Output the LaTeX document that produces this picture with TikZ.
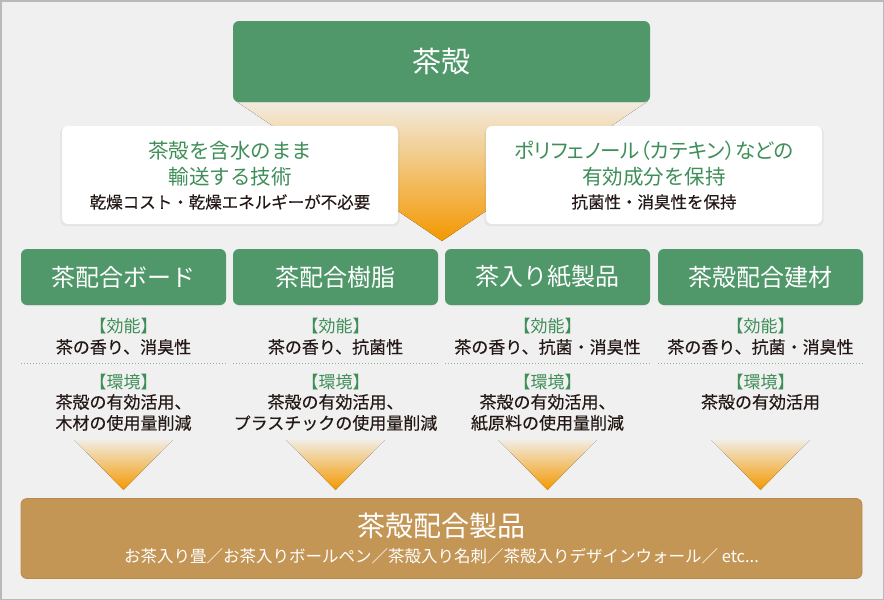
\documentclass[tikz,border=0pt]{standalone}
\usepackage{fontspec}
\setmainfont{Noto Sans CJK JP}
\newfontfamily\propjp{Noto Sans CJK JP}[RawFeature=+palt]
\newfontfamily\medjp{Noto Sans CJK JP}[FakeBold=0.35]
\usetikzlibrary{shadows}
\definecolor{bg}{RGB}{240,240,240}
\definecolor{framec}{RGB}{185,185,185}
\definecolor{tgreen}{RGB}{80,151,106}
\definecolor{gtext}{RGB}{62,142,88}
\definecolor{ink}{RGB}{35,24,21}
\definecolor{gold}{RGB}{196,150,86}
\definecolor{goldline}{RGB}{186,138,74}
\definecolor{orng}{RGB}{243,152,0}
\definecolor{pale}{RGB}{242,236,226}
\definecolor{dotc}{RGB}{140,180,152}
\begin{document}
\begin{tikzpicture}[x=1pt,y=-1pt,
  greenbox/.style={fill=tgreen, rounded corners=6pt, inner sep=0pt,
    text=white, font=\fontsize{24}{28}\selectfont,
    drop shadow={shadow xshift=0pt, shadow yshift=-1pt, opacity=0.08}},
  whitebox/.style={fill=white, rounded corners=6pt, inner sep=0pt,
    minimum width=336pt, minimum height=98pt,
    drop shadow={shadow xshift=0pt, shadow yshift=-1.5pt, shadow scale=1.01, opacity=0.10}},
  gline/.style={text=gtext, inner sep=0pt, font=\fontsize{20.5}{24}\selectfont},
  bline/.style={text=ink, inner sep=0pt, font=\medjp\fontsize{16.5}{20}\selectfont},
  ghead/.style={text=gtext, inner sep=0pt, font=\fontsize{17}{20}\selectfont},
  cline/.style={text=ink, inner sep=0pt, font=\medjp\fontsize{17}{20}\selectfont},
  dotline/.style={draw=dotc, line width=1pt, dash pattern=on 1pt off 2pt},
  funnel/.style={top color=pale, bottom color=orng}
]
\useasboundingbox (0,0) rectangle (884,600);
\fill[framec] (0,0) rectangle (884,600);
\fill[bg] (1.5,1.5) rectangle (882.5,598.5);

% big funnel
\fill[funnel] (236,101) -- (648,101) -- (442,241) -- cycle;

% top box
\node[greenbox, minimum width=417pt, minimum height=81pt,
  font=\fontsize{29}{32}\selectfont] (top) at (441.5,61.5) {茶殻};

% white boxes
\node[whitebox] (wl) at (230,175) {};
\node[whitebox] (wr) at (654,175) {};
\node[gline] (wl1) at (230,151) {茶殻を含水のまま};
\node[gline] (wl2) at (230,177) {輸送する技術};
\node[bline] (wl3) at (230,202) {乾燥コスト・乾燥エネルギーが不必要};
\node[gline, font=\propjp\fontsize{20.5}{24}\selectfont] (wr1) at (654,151) {ポリフェノール（カテキン）などの};
\node[gline] (wr2) at (654,177) {有効成分を保持};
\node[bline] (wr3) at (654,202) {抗菌性・消臭性を保持};

% product boxes
\node[greenbox, minimum width=205pt, minimum height=56pt] (p1) at (123.5,277) {茶配合ボード};
\node[greenbox, minimum width=205pt, minimum height=56pt] (p2) at (335.5,277) {茶配合樹脂};
\node[greenbox, minimum width=205pt, minimum height=56pt] (p3) at (547.5,277) {茶入り紙製品};
\node[greenbox, minimum width=205pt, minimum height=56pt] (p4) at (760.5,277) {茶殻配合建材};

% column texts
\node[ghead] (k1) at (123.5,326) {【効能】};
\node[ghead] (k2) at (335.5,326) {【効能】};
\node[ghead] (k3) at (547.5,326) {【効能】};
\node[ghead] (k4) at (760.5,326) {【効能】};
\node[cline] (e1) at (123.5,347) {茶の香り、消臭性};
\node[cline] (e2) at (335.5,347) {茶の香り、抗菌性};
\node[cline] (e3) at (547.5,347) {茶の香り、抗菌・消臭性};
\node[cline] (e4) at (760.5,347) {茶の香り、抗菌・消臭性};

\draw[dotline] (21,363) -- (226,363);
\draw[dotline] (233,363) -- (438,363);
\draw[dotline] (445,363) -- (650,363);
\draw[dotline] (658,363) -- (863,363);

\node[ghead] (v1) at (123.5,382) {【環境】};
\node[ghead] (v2) at (335.5,382) {【環境】};
\node[ghead] (v3) at (547.5,382) {【環境】};
\node[ghead] (v4) at (760.5,382) {【環境】};
\node[cline] (a1) at (123.5,402) {茶殻の有効活用、};
\node[cline] (b1) at (123.5,423) {木材の使用量削減};
\node[cline] (a2) at (335.5,402) {茶殻の有効活用、};
\node[cline] (b2) at (335.5,423) {プラスチックの使用量削減};
\node[cline] (a3) at (547.5,402) {茶殻の有効活用、};
\node[cline] (b3) at (547.5,423) {紙原料の使用量削減};
\node[cline] (a4) at (760.5,402) {茶殻の有効活用};

% small funnels
\foreach \cx in {123.5,335.5,547.5,760.5}{
  \fill[funnel] (\cx-49,440) -- (\cx+49,440) -- (\cx,490) -- cycle;
}

% bottom box
\node[fill=gold, draw=goldline, line width=0.8pt, rounded corners=6pt,
  minimum width=841pt, minimum height=80pt, inner sep=0pt] (bot) at (441.5,538.5) {};
\node[text=white, inner sep=0pt, font=\fontsize{28}{32}\selectfont] (bt) at (441.5,526) {茶殻配合製品};
\node[text=white, inner sep=0pt, font=\fontsize{16.5}{20}\selectfont] (bs) at (441.5,556)
  {お茶入り畳／お茶入りボールペン／茶殻入り名刺／茶殻入りデザインウォール／ etc...};
\end{tikzpicture}
\end{document}
